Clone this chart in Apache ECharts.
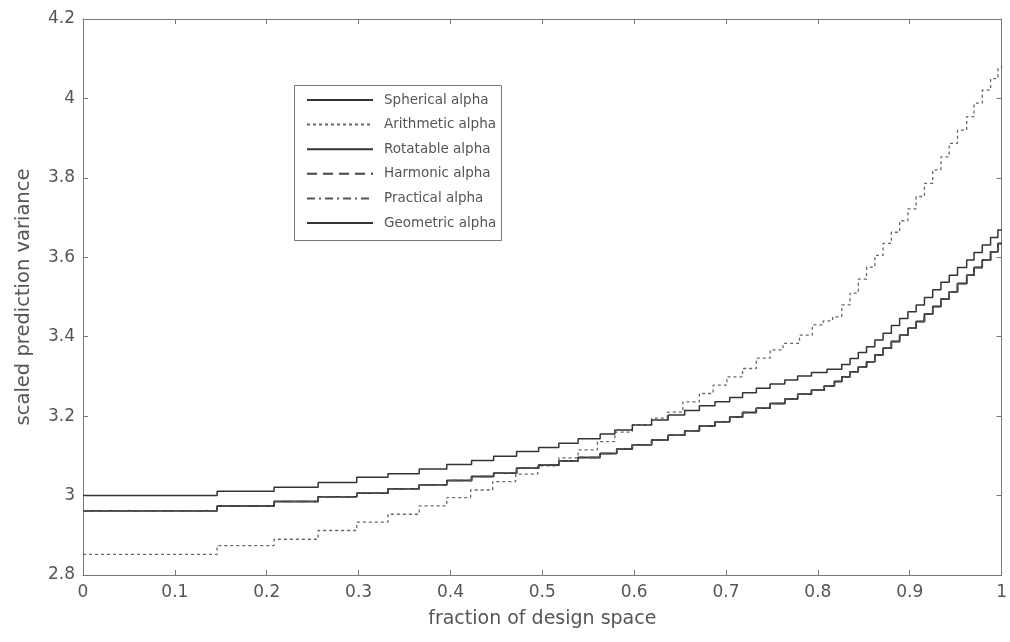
<!DOCTYPE html>
<html>
<head>
<meta charset="utf-8">
<script src="https://cdn.jsdelivr.net/npm/echarts@6/dist/echarts.min.js"></script>
<style>
html,body{margin:0;padding:0;background:#fff;}
#chart{width:1010px;height:642px;}
</style>
</head>
<body>
<div id="chart"></div>
<script>
// ---- data (step functions: value holds from x[i] to x[i+1]) ----
var seriesNames = ['Spherical alpha','Arithmetic alpha','Rotatable alpha','Harmonic alpha','Practical alpha','Geometric alpha'];
var xTicks = ['0','0.1','0.2','0.3','0.4','0.5','0.6','0.7','0.8','0.9','1'];
var yTicks = ['2.8','3','3.2','3.4','3.6','3.8','4','4.2'];

var rotX = [0,0.146,0.208,0.256,0.298,0.332,0.366,0.396,0.423,0.447,0.472,0.496,0.518,0.539,0.563,0.579,0.598,0.619,0.637,0.655,0.671,0.688,0.704,0.718,0.733,0.748,0.764,0.778,0.793,0.810,0.826,0.835,0.844,0.853,0.862,0.871,0.880,0.889,0.898,0.907,0.916,0.925,0.934,0.943,0.952,0.962,0.970,0.979,0.988,0.996,1.0];
var rotY = [3.000,3.011,3.021,3.033,3.046,3.055,3.067,3.078,3.088,3.099,3.111,3.121,3.132,3.143,3.155,3.165,3.178,3.190,3.203,3.214,3.226,3.236,3.247,3.259,3.270,3.281,3.291,3.301,3.310,3.318,3.330,3.345,3.360,3.375,3.392,3.409,3.428,3.446,3.463,3.480,3.499,3.518,3.537,3.555,3.574,3.593,3.612,3.631,3.650,3.669,3.669];

var midX = [0,0.146,0.208,0.256,0.298,0.332,0.366,0.396,0.423,0.447,0.472,0.496,0.518,0.539,0.563,0.581,0.598,0.619,0.637,0.655,0.671,0.688,0.704,0.718,0.733,0.748,0.764,0.778,0.793,0.807,0.818,0.826,0.835,0.844,0.853,0.862,0.871,0.880,0.889,0.898,0.907,0.916,0.925,0.934,0.943,0.952,0.962,0.970,0.979,0.988,0.996,1.0];
var midY = [2.962,2.974,2.985,2.997,3.006,3.017,3.027,3.038,3.048,3.056,3.069,3.077,3.087,3.096,3.106,3.117,3.128,3.140,3.152,3.163,3.175,3.186,3.198,3.209,3.220,3.232,3.243,3.255,3.265,3.276,3.287,3.299,3.312,3.324,3.337,3.354,3.371,3.388,3.404,3.421,3.438,3.457,3.476,3.495,3.513,3.534,3.555,3.574,3.593,3.614,3.635,3.635];

var ariX = [0,0.146,0.208,0.256,0.298,0.332,0.366,0.396,0.422,0.446,0.471,0.495,0.518,0.539,0.560,0.579,0.598,0.619,0.636,0.653,0.671,0.686,0.701,0.718,0.733,0.748,0.762,0.780,0.794,0.806,0.816,0.826,0.835,0.844,0.853,0.862,0.871,0.880,0.889,0.898,0.907,0.916,0.925,0.934,0.943,0.952,0.962,0.970,0.979,0.988,0.996,1.0];
var ariY = [2.852,2.874,2.890,2.912,2.933,2.953,2.974,2.995,3.014,3.035,3.054,3.075,3.095,3.115,3.136,3.160,3.178,3.195,3.210,3.236,3.257,3.278,3.299,3.320,3.346,3.367,3.383,3.404,3.430,3.440,3.450,3.480,3.510,3.545,3.575,3.605,3.635,3.663,3.692,3.722,3.753,3.786,3.820,3.853,3.887,3.920,3.954,3.988,4.021,4.050,4.076,4.085];

function pairs(xs, ys){ return xs.map(function(x,i){ return [x, ys[i]]; }); }

var FONT = '"DejaVu Sans", "Liberation Sans", Arial, sans-serif';
var TXT = '#555';
var AX = '#777';

var chart = echarts.init(document.getElementById('chart'), null, {renderer:'canvas'});

function mkSeries(name, data, color, type, width, z){
  return {
    name: name, type: 'line', data: data, step: 'end', symbol: 'none',
    xAxisIndex: 0, yAxisIndex: 0, z: z, animation: false,
    lineStyle: {color: color, width: width, type: type},
    itemStyle: {color: color}
  };
}

var option = {
  backgroundColor: '#fff',
  animation: false,
  grid: {left: 83, right: 8, top: 19, bottom: 67, containLabel: false},
  xAxis: [{
    type: 'value', min: 0, max: 1, interval: 0.1, position: 'bottom',
    name: 'fraction of design space', nameLocation: 'middle', nameGap: 35,
    nameTextStyle: {fontFamily: FONT, fontSize: 19, color: TXT},
    axisLine: {show: true, onZero: false, lineStyle: {color: AX, width: 1}},
    axisTick: {show: true, inside: true, length: 5, lineStyle: {color: AX}},
    axisLabel: {fontFamily: FONT, fontSize: 17, color: TXT, margin: 9,
      formatter: function(v){ return xTicks[Math.round(v*10)]; }},
    splitLine: {show: false}
  },{
    type: 'value', min: 0, max: 1, interval: 0.1, position: 'top',
    axisLine: {show: true, onZero: false, lineStyle: {color: AX, width: 1}},
    axisTick: {show: true, inside: true, length: 5, lineStyle: {color: AX}},
    axisLabel: {show: false}, splitLine: {show: false}
  }],
  yAxis: [{
    type: 'value', min: 2.8, max: 4.2, interval: 0.2, position: 'left',
    name: 'scaled prediction variance', nameLocation: 'middle', nameGap: 49,
    nameTextStyle: {fontFamily: FONT, fontSize: 19.5, color: TXT},
    axisLine: {show: true, onZero: false, lineStyle: {color: AX, width: 1}},
    axisTick: {show: true, inside: true, length: 5, lineStyle: {color: AX}},
    axisLabel: {fontFamily: FONT, fontSize: 17, color: TXT, margin: 8,
      formatter: function(v){ return yTicks[Math.round((v-2.8)/0.2)]; }},
    splitLine: {show: false}
  },{
    type: 'value', min: 2.8, max: 4.2, interval: 0.2, position: 'right',
    axisLine: {show: true, onZero: false, lineStyle: {color: AX, width: 1}},
    axisTick: {show: true, inside: true, length: 5, lineStyle: {color: AX}},
    axisLabel: {show: false}, splitLine: {show: false}
  }],
  legend: {
    data: seriesNames, orient: 'vertical', left: 306, top: 93,
    itemWidth: 66, itemHeight: 14, itemGap: 10.6, padding: 0,
    itemStyle: {opacity: 0},
    textStyle: {fontFamily: FONT, fontSize: 13.5, color: TXT, lineHeight: 14, padding: [0,0,0,6]},
    selectedMode: false
  },
  graphic: [{
    type: 'rect', left: 292, top: 83, z: 100,
    shape: {width: 207, height: 155},
    style: {fill: 'none', stroke: '#777', lineWidth: 1}
  }],
  series: [
    mkSeries('Arithmetic alpha', pairs(ariX, ariY), '#666', [3,3], 1.3, 2),
    mkSeries('Spherical alpha', pairs(midX, midY), '#333', 'solid', 1.5, 3),
    mkSeries('Geometric alpha', pairs(midX, midY), '#333', 'solid', 1.5, 3),
    mkSeries('Harmonic alpha', pairs(midX, midY), '#444', [10,6], 1.5, 4),
    mkSeries('Practical alpha', pairs(midX, midY), '#555', [8,4,2,4], 1.5, 4),
    mkSeries('Rotatable alpha', pairs(rotX, rotY), '#333', 'solid', 1.5, 5)
  ]
};
chart.setOption(option);
</script>
</body>
</html>
